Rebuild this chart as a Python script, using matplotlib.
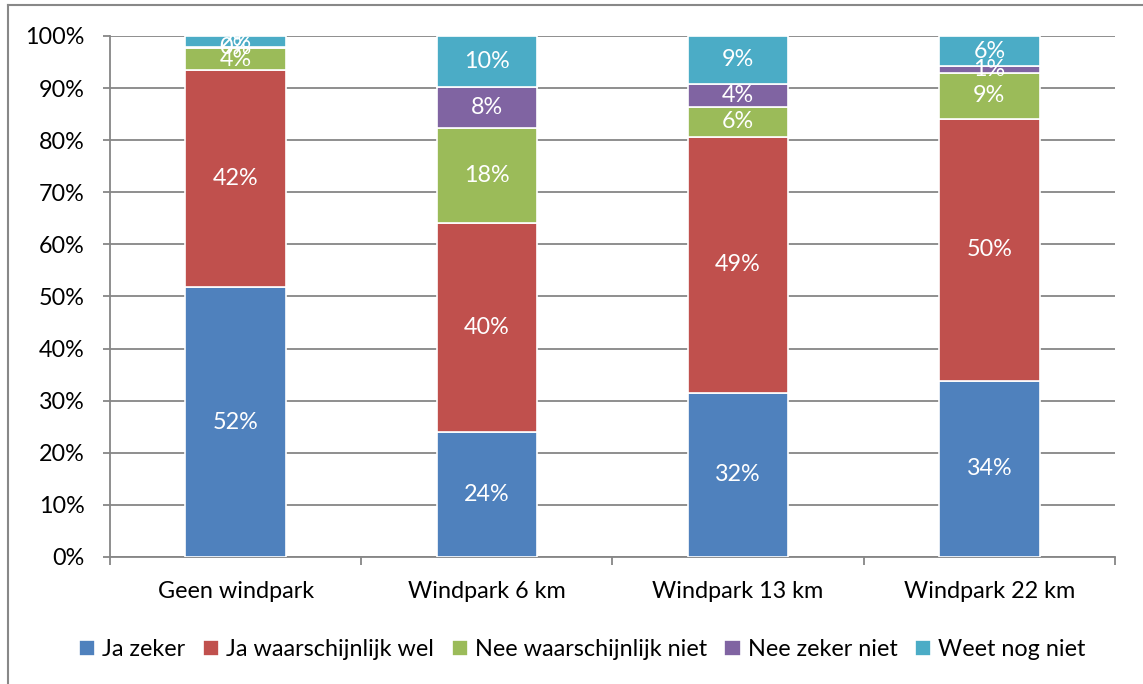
import numpy as np
import matplotlib
matplotlib.use('Agg')
import matplotlib.pyplot as plt
from matplotlib.lines import Line2D

plt.rcParams['font.family'] = ['Lato', 'DejaVu Sans']

categories = ['Geen windpark', 'Windpark 6 km', 'Windpark 13 km', 'Windpark 22 km']
series = ['Ja zeker', 'Ja waarschijnlijk wel', 'Nee waarschijnlijk niet',
          'Nee zeker niet', 'Weet nog niet']
ja_zeker = [51.8, 24.0, 31.5, 33.8]
ja_waarschijnlijk = [41.7, 40.1, 49.1, 50.3]
nee_waarschijnlijk = [4.1, 18.2, 5.8, 8.8]
nee_zeker = [0.2, 7.9, 4.4, 1.3]
weet_niet = [2.2, 9.8, 9.2, 5.8]
colors = ['#4F81BD', '#C0504D', '#9BBB59', '#8064A2', '#4BACC6']

values = [ja_zeker, ja_waarschijnlijk, nee_waarschijnlijk, nee_zeker, weet_niet]

FS = 16.8

fig = plt.figure(figsize=(11.43, 6.84), dpi=100)
ax = fig.add_axes([0.0962, 0.1857, 0.8793, 0.7617])

x = np.arange(len(categories))
bottom = np.zeros(len(categories))
for name, vals, c in zip(series, values, colors):
    vals = np.array(vals)
    ax.bar(x, vals, width=0.4, bottom=bottom, color=c, edgecolor='white',
           linewidth=1.2, label=name, zorder=3)
    for xi, b, v in zip(x, bottom, vals):
        ax.text(xi, b + v / 2, f'{v:.0f}%', ha='center', va='center',
                color='white', fontsize=FS, zorder=4)
    bottom += vals

ax.set_xlim(-0.5, 3.5)
ax.set_ylim(0, 100)
ax.set_yticks(np.arange(0, 101, 10))
ax.set_yticklabels([f'{t}%' for t in range(0, 101, 10)], fontsize=FS)
ax.yaxis.grid(True, color='#868686', linewidth=1.3, zorder=0)
ax.set_xticks(x)
ax.set_xticklabels(categories, fontsize=FS)
ax.tick_params(axis='x', length=0, pad=17)
ax.set_xticks(np.arange(-0.5, 3.6, 1), minor=True)
ax.tick_params(axis='x', which='minor', length=6, color='#868686', width=1.3)
ax.tick_params(axis='y', length=5, color='#868686', width=1.3, pad=13)
for s in ['top', 'right']:
    ax.spines[s].set_visible(False)
for s in ['left', 'bottom']:
    ax.spines[s].set_color('#868686')
    ax.spines[s].set_linewidth(1.3)

ax.legend(loc='upper center', bbox_to_anchor=(0.47, -0.118), ncol=5,
          frameon=False, fontsize=FS, handlelength=0.7, handleheight=0.7,
          handletextpad=0.3, columnspacing=0.75)

# outer frame (top + left)
fig.add_artist(Line2D([8 / 1143, 8 / 1143], [0, 1 - 5 / 684],
                      color='#888888', linewidth=1.5))
fig.add_artist(Line2D([8 / 1143, 1], [1 - 5 / 684, 1 - 5 / 684],
                      color='#888888', linewidth=1.5))

plt.savefig('out.png', dpi=100)
